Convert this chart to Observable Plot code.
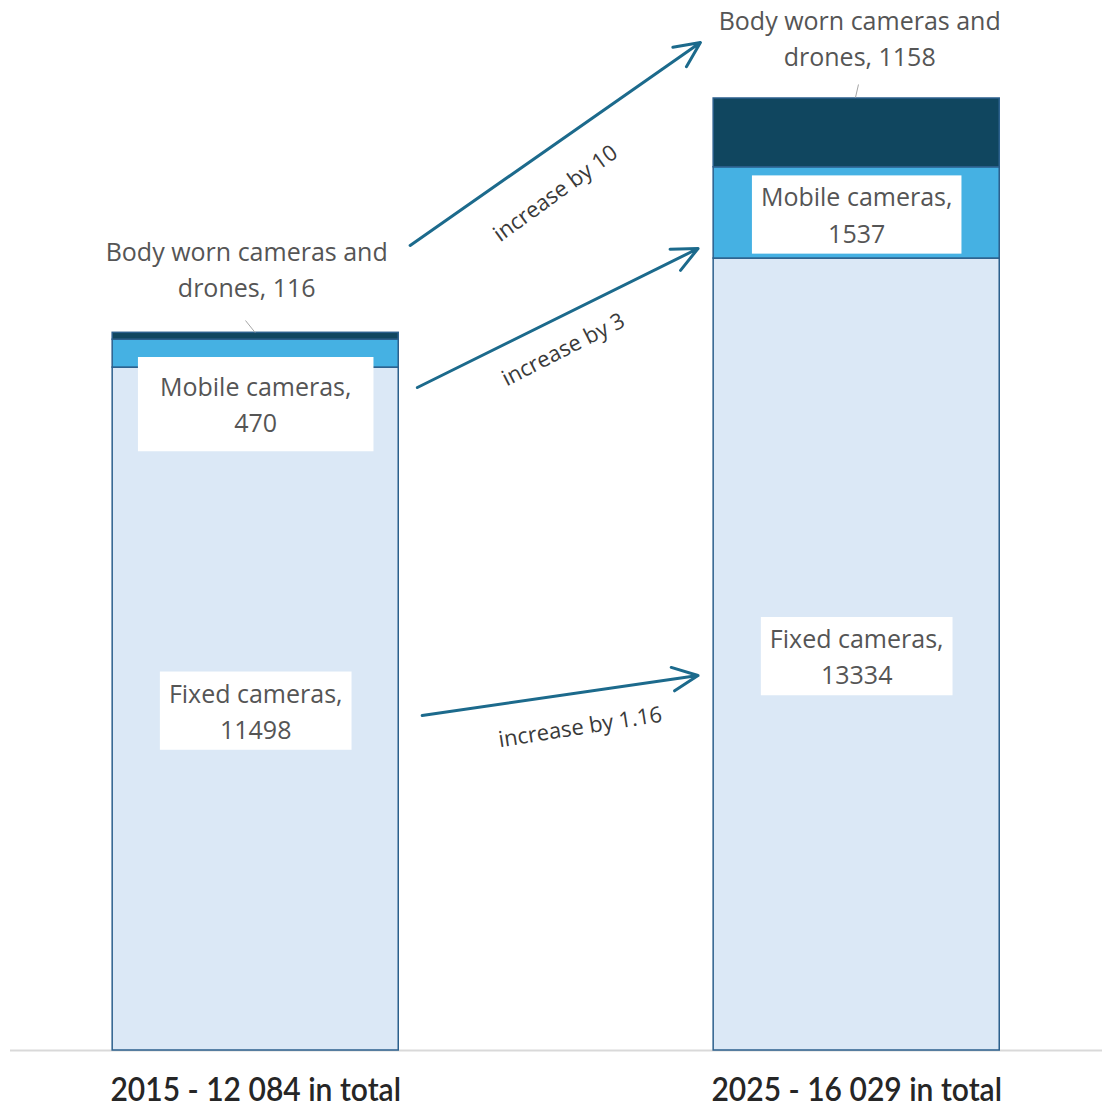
<!DOCTYPE html>
<html>
<head>
<meta charset="utf-8">
<script src="https://cdn.jsdelivr.net/npm/d3@7"></script>
<script src="https://cdn.jsdelivr.net/npm/@observablehq/plot@0.6"></script>
<style>
  html, body { margin: 0; padding: 0; background: #ffffff; }
  svg { display: block; }
</style>
</head>
<body>
<script>
// ---- data ----
const years = [2015, 2025];
const seriesNames = ["Fixed cameras", "Mobile cameras", "Body worn cameras and drones"];
const fixedCameras = [11498, 13334];
const mobileCameras = [470, 1537];
const bodyWornDrones = [116, 1158];
const seriesColors = ["#dbe8f6", "#45b1e3", "#10465f"];

// increases between the two years (annotation arrows, in data units)
const increaseLabels = ["increase by 10", "increase by 3", "increase by 1.16"];
const arrowX1 = [2017.57, 2017.69, 2017.77];
const arrowY1 = [13554, 11163, 5640];
const arrowX2 = [2022.40, 2022.36, 2022.36];
const arrowY2 = [16972, 13503, 6314];
const labelX = [2019.99, 2020.12, 2020.40];
const labelY = [14430, 11800, 5440];
const labelAngle = [-36, -27, -9];

// callout positions for labels that do not fit inside their segment (data units)
const calloutMobile2015Y = 10910;
const calloutBody2015X = 2014.85;
const calloutBody2015Y = 13180;
const calloutBody2025X = 2025.05;
const calloutBody2025Y = 17070;
const leaderX1 = [2014.83, 2025.03];
const leaderY1 = [12291, 16265];
const leaderX2 = [2014.99, 2024.98];
const leaderY2 = [12089, 16046];

// ---- build tables ----
const valuesBySeries = [fixedCameras, mobileCameras, bodyWornDrones];
const rows = [];
years.forEach((year, i) => {
  let base = 0;
  seriesNames.forEach((s, j) => {
    const v = valuesBySeries[j][i];
    rows.push({year, series: s, value: v, y1: base, y2: base + v, mid: base + v / 2});
    base += v;
  });
});
const totals = years.map((_, i) => valuesBySeries.reduce((a, s) => a + s[i], 0));
const fmtSpace = n => d3.format(",")(n).replace(/,/g, " ");
const axisLabel = new Map(years.map((y, i) => [y, `${y} - ${fmtSpace(totals[i])} in total`]));

const labelText = d => d.series === seriesNames[2]
  ? `Body worn cameras and\ndrones, ${d.value}`
  : `${d.series},\n${d.value}`;

const inside = rows.filter(d => !(d.year === 2015 && d.series !== seriesNames[0]) && d.series !== seriesNames[2]);
const mobile2015 = {...rows.find(d => d.year === 2015 && d.series === seriesNames[1]), lx: 2015, ly: calloutMobile2015Y};
const bodyCallouts = [
  {...rows.find(d => d.year === 2015 && d.series === seriesNames[2]), lx: calloutBody2015X, ly: calloutBody2015Y},
  {...rows.find(d => d.year === 2025 && d.series === seriesNames[2]), lx: calloutBody2025X, ly: calloutBody2025Y}
];
const arrows = increaseLabels.map((t, i) => ({
  text: t, x1: arrowX1[i], y1: arrowY1[i], x2: arrowX2[i], y2: arrowY2[i],
  lx: labelX[i], ly: labelY[i], angle: labelAngle[i]
}));
const leaders = leaderX1.map((_, i) => ({x1: leaderX1[i], y1: leaderY1[i], x2: leaderX2[i], y2: leaderY2[i]}));

const halfWidth = 2.38; // half bar width in years
const labelFont = 25;

const chart = Plot.plot({
  width: 1102,
  height: 1108,
  marginLeft: 10,
  marginRight: 0,
  marginTop: 0,
  marginBottom: 58,
  style: {fontFamily: "'Open Sans', sans-serif", background: "#ffffff"},
  x: {type: "linear", domain: [2010.92, 2029.09], axis: null},
  y: {domain: [0, 17679], axis: null},
  color: {domain: seriesNames, range: seriesColors},
  marks: [
    Plot.ruleY([0], {stroke: "#d9d9d9", strokeWidth: 2}),
    Plot.rect(rows, {
      x1: d => d.year - halfWidth, x2: d => d.year + halfWidth,
      y1: "y1", y2: "y2", fill: "series", stroke: "#2b5f8c", strokeWidth: 1.5
    }),
    Plot.axisX(years, {
      tickSize: 0, tickPadding: 27, fontSize: 33, fill: "#262626", fontWeight: 600,
      fontFamily: "Lato, Roboto, sans-serif",
      tickFormat: d => axisLabel.get(d), label: null
    }),
    Plot.link(leaders, {x1: "x1", y1: "y1", x2: "x2", y2: "y2", stroke: "#a6a6a6", strokeWidth: 1}),
    Plot.text(inside, {
      x: "year", y: "mid", text: labelText, fontSize: labelFont, lineHeight: 1.45,
      fill: "#555555", ariaLabel: () => "boxed"
    }),
    Plot.text([mobile2015], {
      x: "lx", y: "ly", text: labelText, fontSize: labelFont, lineHeight: 1.45,
      fill: "#555555", ariaLabel: () => "boxed-wide"
    }),
    Plot.text(bodyCallouts, {
      x: "lx", y: "ly", text: labelText, fontSize: labelFont, lineHeight: 1.45,
      fill: "#555555"
    }),
    Plot.arrow(arrows, {
      x1: "x1", y1: "y1", x2: "x2", y2: "y2",
      stroke: "#1c6a8c", strokeWidth: 3, headLength: 14, headAngle: 50
    }),
    Plot.text(arrows, {
      x: "lx", y: "ly", text: "text", rotate: "angle", fontSize: 22, fill: "#3a3a3a"
    })
  ]
});

document.body.append(chart);

// white boxes behind in-bar labels
function addBoxes(label, padX, padY) {
  chart.querySelectorAll(`text[aria-label="${label}"]`).forEach(t => {
    const b = t.getBBox();
    const r = document.createElementNS("http://www.w3.org/2000/svg", "rect");
    r.setAttribute("x", b.x - padX);
    r.setAttribute("y", b.y - padY);
    r.setAttribute("width", b.width + 2 * padX);
    r.setAttribute("height", b.height + 2 * padY);
    r.setAttribute("fill", "#ffffff");
    if (t.getAttribute("transform")) r.setAttribute("transform", t.getAttribute("transform"));
    t.parentNode.insertBefore(r, t);
  });
}
addBoxes("boxed", 9, 4);
addBoxes("boxed-wide", 22, 12);

// condensed look for the total labels under the bars
chart.querySelectorAll("text").forEach(t => {
  if (!t.textContent.includes("in total")) return;
  const tr = t.getAttribute("transform") || "";
  t.setAttribute("transform", `${tr} scale(0.91,1)`.trim());
});
</script>
</body>
</html>
